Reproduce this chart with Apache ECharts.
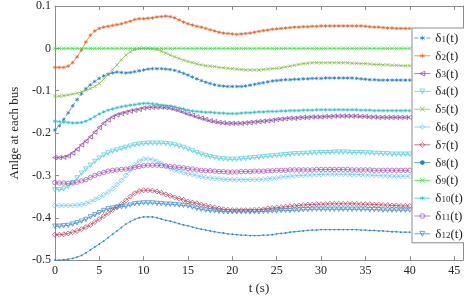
<!DOCTYPE html>
<html><head><meta charset="utf-8">
<script src="https://cdn.jsdelivr.net/npm/echarts@6/dist/echarts.min.js"></script>
<style>html,body{margin:0;padding:0;background:#fff}#c{width:464px;height:300px}</style>
</head><body><div id="c"></div><script>
const times = [
0,0.5,1,1.5,2,2.5,3,3.5,4,4.5,
5,5.5,6,6.5,7,7.5,8,8.5,9,9.5,
10,10.5,11,11.5,12,12.5,13,13.5,14,14.5,
15,15.5,16,16.5,17,17.5,18,18.5,19,19.5,
20,20.5,21,21.5,22,22.5,23,23.5,24,24.5,
25,25.5,26,26.5,27,27.5,28,28.5,29,29.5,
30,30.5,31,31.5,32,32.5,33,33.5,34,34.5,
35,35.5,36,36.5,37,37.5,38,38.5,39,39.5,
40];
const names = ['δ1(t)','δ2(t)','δ3(t)','δ4(t)','δ5(t)','δ6(t)','δ7(t)','δ8(t)','δ9(t)','δ10(t)','δ11(t)','δ12(t)'];
const d1 = [
-0.193,-0.183,-0.168,-0.152,-0.136,-0.121,-0.107,-0.095,-0.086,-0.078,
-0.071,-0.065,-0.061,-0.058,-0.056,-0.057,-0.058,-0.057,-0.055,-0.053,
-0.051,-0.049,-0.048,-0.048,-0.048,-0.049,-0.050,-0.052,-0.055,-0.059,
-0.063,-0.068,-0.072,-0.076,-0.080,-0.083,-0.086,-0.088,-0.089,-0.090,
-0.090,-0.090,-0.090,-0.089,-0.087,-0.085,-0.083,-0.081,-0.079,-0.077,
-0.076,-0.075,-0.074,-0.074,-0.073,-0.073,-0.072,-0.072,-0.071,-0.071,
-0.071,-0.070,-0.070,-0.070,-0.070,-0.070,-0.070,-0.070,-0.071,-0.072,
-0.073,-0.074,-0.074,-0.075,-0.075,-0.075,-0.075,-0.075,-0.075,-0.075,
-0.075];
const d2 = [
-0.045,-0.045,-0.045,-0.042,-0.034,-0.020,-0.004,0.015,0.031,0.041,
0.047,0.050,0.052,0.054,0.056,0.058,0.061,0.064,0.068,0.070,
0.070,0.071,0.072,0.074,0.075,0.076,0.075,0.072,0.067,0.062,
0.058,0.055,0.052,0.050,0.047,0.044,0.041,0.038,0.036,0.035,
0.034,0.033,0.034,0.035,0.036,0.038,0.040,0.042,0.043,0.045,
0.046,0.047,0.048,0.049,0.050,0.050,0.051,0.051,0.052,0.052,
0.053,0.053,0.053,0.053,0.053,0.053,0.053,0.053,0.053,0.053,
0.052,0.051,0.050,0.050,0.049,0.048,0.048,0.047,0.047,0.047,
0.047];
const d3 = [
-0.258,-0.258,-0.257,-0.254,-0.247,-0.238,-0.228,-0.219,-0.209,-0.198,
-0.187,-0.177,-0.169,-0.162,-0.157,-0.154,-0.151,-0.148,-0.146,-0.144,
-0.141,-0.140,-0.139,-0.139,-0.139,-0.140,-0.141,-0.144,-0.147,-0.151,
-0.155,-0.158,-0.162,-0.165,-0.168,-0.171,-0.173,-0.175,-0.176,-0.177,
-0.177,-0.177,-0.177,-0.176,-0.175,-0.174,-0.173,-0.172,-0.171,-0.170,
-0.168,-0.167,-0.166,-0.165,-0.165,-0.164,-0.163,-0.163,-0.162,-0.162,
-0.162,-0.161,-0.161,-0.160,-0.160,-0.160,-0.160,-0.160,-0.160,-0.161,
-0.161,-0.162,-0.162,-0.163,-0.163,-0.163,-0.163,-0.163,-0.163,-0.163,
-0.163];
const d4 = [
-0.334,-0.334,-0.332,-0.326,-0.317,-0.306,-0.295,-0.285,-0.276,-0.267,
-0.259,-0.252,-0.247,-0.243,-0.240,-0.237,-0.234,-0.231,-0.228,-0.226,
-0.225,-0.224,-0.224,-0.224,-0.224,-0.225,-0.226,-0.228,-0.231,-0.234,
-0.238,-0.242,-0.246,-0.250,-0.253,-0.256,-0.258,-0.260,-0.261,-0.262,
-0.262,-0.262,-0.261,-0.260,-0.259,-0.258,-0.257,-0.256,-0.255,-0.254,
-0.253,-0.252,-0.251,-0.250,-0.249,-0.249,-0.248,-0.248,-0.247,-0.247,
-0.246,-0.246,-0.246,-0.245,-0.245,-0.245,-0.245,-0.246,-0.246,-0.246,
-0.247,-0.247,-0.248,-0.248,-0.249,-0.249,-0.250,-0.250,-0.250,-0.250,
-0.250];
const d5 = [
-0.113,-0.113,-0.112,-0.110,-0.108,-0.106,-0.103,-0.099,-0.095,-0.090,
-0.083,-0.073,-0.062,-0.050,-0.039,-0.027,-0.016,-0.008,-0.003,-0.001,
0.000,0.000,-0.001,-0.003,-0.007,-0.011,-0.016,-0.020,-0.024,-0.028,
-0.031,-0.034,-0.037,-0.039,-0.041,-0.042,-0.043,-0.045,-0.046,-0.047,
-0.048,-0.049,-0.050,-0.051,-0.051,-0.051,-0.051,-0.050,-0.049,-0.048,
-0.047,-0.046,-0.044,-0.042,-0.040,-0.038,-0.036,-0.035,-0.034,-0.034,
-0.034,-0.034,-0.034,-0.034,-0.034,-0.034,-0.034,-0.035,-0.035,-0.036,
-0.036,-0.037,-0.038,-0.038,-0.039,-0.039,-0.040,-0.040,-0.041,-0.041,
-0.041];
const d6 = [
-0.371,-0.371,-0.371,-0.371,-0.371,-0.370,-0.369,-0.366,-0.362,-0.357,
-0.352,-0.346,-0.339,-0.331,-0.322,-0.312,-0.300,-0.287,-0.275,-0.266,
-0.261,-0.261,-0.263,-0.266,-0.271,-0.277,-0.283,-0.287,-0.290,-0.293,
-0.296,-0.298,-0.301,-0.303,-0.305,-0.306,-0.307,-0.308,-0.309,-0.310,
-0.310,-0.310,-0.310,-0.310,-0.310,-0.310,-0.310,-0.309,-0.308,-0.307,
-0.306,-0.304,-0.303,-0.302,-0.301,-0.300,-0.300,-0.299,-0.299,-0.298,
-0.298,-0.297,-0.297,-0.297,-0.297,-0.297,-0.297,-0.298,-0.298,-0.298,
-0.299,-0.299,-0.300,-0.300,-0.301,-0.301,-0.302,-0.302,-0.302,-0.302,
-0.302];
const d7 = [
-0.440,-0.440,-0.439,-0.437,-0.434,-0.431,-0.427,-0.422,-0.417,-0.410,
-0.403,-0.396,-0.389,-0.382,-0.375,-0.367,-0.359,-0.350,-0.342,-0.337,
-0.335,-0.335,-0.336,-0.338,-0.341,-0.345,-0.348,-0.352,-0.355,-0.358,
-0.362,-0.364,-0.366,-0.369,-0.371,-0.374,-0.376,-0.378,-0.380,-0.381,
-0.382,-0.382,-0.382,-0.382,-0.382,-0.381,-0.381,-0.380,-0.378,-0.377,
-0.376,-0.375,-0.374,-0.373,-0.372,-0.371,-0.370,-0.369,-0.369,-0.368,
-0.368,-0.368,-0.367,-0.367,-0.367,-0.367,-0.367,-0.367,-0.367,-0.368,
-0.368,-0.368,-0.369,-0.369,-0.370,-0.370,-0.371,-0.371,-0.372,-0.372,
-0.372];
const d8 = [
-0.500,-0.500,-0.499,-0.498,-0.496,-0.493,-0.489,-0.483,-0.476,-0.469,
-0.462,-0.455,-0.447,-0.439,-0.431,-0.423,-0.415,-0.409,-0.404,-0.400,
-0.398,-0.398,-0.398,-0.400,-0.403,-0.406,-0.408,-0.411,-0.414,-0.417,
-0.419,-0.422,-0.425,-0.427,-0.429,-0.431,-0.433,-0.435,-0.436,-0.438,
-0.439,-0.440,-0.441,-0.441,-0.442,-0.442,-0.442,-0.441,-0.441,-0.440,
-0.438,-0.437,-0.436,-0.434,-0.433,-0.432,-0.431,-0.430,-0.429,-0.429,
-0.428,-0.428,-0.428,-0.428,-0.428,-0.428,-0.428,-0.428,-0.428,-0.429,
-0.429,-0.430,-0.430,-0.431,-0.431,-0.432,-0.433,-0.433,-0.434,-0.434,
-0.434];
const d9 = [
0,0,0,0,0,0,0,0,0,0,
0,0,0,0,0,0,0,0,0,0,
0,0,0,0,0,0,0,0,0,0,
0,0,0,0,0,0,0,0,0,0,
0,0,0,0,0,0,0,0,0,0,
0,0,0,0,0,0,0,0,0,0,
0,0,0,0,0,0,0,0,0,0,
0,0,0,0,0,0,0,0,0,0,
0];
const d10 = [
-0.172,-0.173,-0.174,-0.175,-0.176,-0.176,-0.175,-0.172,-0.167,-0.161,
-0.155,-0.150,-0.146,-0.143,-0.140,-0.138,-0.136,-0.134,-0.133,-0.131,
-0.130,-0.130,-0.131,-0.132,-0.134,-0.135,-0.136,-0.138,-0.141,-0.143,
-0.146,-0.148,-0.149,-0.150,-0.151,-0.151,-0.152,-0.153,-0.153,-0.154,
-0.154,-0.154,-0.153,-0.152,-0.152,-0.151,-0.150,-0.150,-0.149,-0.149,
-0.149,-0.148,-0.148,-0.147,-0.147,-0.147,-0.146,-0.146,-0.146,-0.145,
-0.145,-0.145,-0.145,-0.145,-0.145,-0.145,-0.145,-0.145,-0.145,-0.146,
-0.146,-0.146,-0.147,-0.147,-0.147,-0.147,-0.147,-0.147,-0.147,-0.147,
-0.147];
const d11 = [
-0.317,-0.318,-0.318,-0.319,-0.318,-0.316,-0.313,-0.310,-0.305,-0.300,
-0.296,-0.293,-0.290,-0.288,-0.287,-0.286,-0.285,-0.283,-0.281,-0.279,
-0.277,-0.276,-0.276,-0.276,-0.277,-0.278,-0.279,-0.280,-0.281,-0.282,
-0.284,-0.285,-0.287,-0.288,-0.289,-0.289,-0.290,-0.291,-0.291,-0.292,
-0.292,-0.292,-0.291,-0.291,-0.291,-0.290,-0.290,-0.290,-0.289,-0.289,
-0.288,-0.288,-0.288,-0.287,-0.287,-0.287,-0.287,-0.287,-0.287,-0.286,
-0.286,-0.286,-0.286,-0.286,-0.286,-0.286,-0.286,-0.287,-0.287,-0.287,
-0.287,-0.287,-0.288,-0.288,-0.288,-0.288,-0.288,-0.288,-0.288,-0.288,
-0.288];
const d12 = [
-0.420,-0.420,-0.419,-0.418,-0.415,-0.412,-0.408,-0.404,-0.398,-0.393,
-0.388,-0.383,-0.379,-0.377,-0.375,-0.374,-0.373,-0.370,-0.367,-0.366,
-0.365,-0.365,-0.365,-0.366,-0.367,-0.368,-0.368,-0.369,-0.370,-0.371,
-0.372,-0.375,-0.378,-0.380,-0.382,-0.383,-0.384,-0.385,-0.386,-0.386,
-0.386,-0.386,-0.386,-0.386,-0.386,-0.386,-0.386,-0.385,-0.385,-0.384,
-0.384,-0.383,-0.383,-0.383,-0.382,-0.382,-0.381,-0.381,-0.380,-0.380,
-0.380,-0.380,-0.380,-0.380,-0.380,-0.380,-0.380,-0.380,-0.380,-0.380,
-0.380,-0.381,-0.381,-0.381,-0.382,-0.382,-0.382,-0.382,-0.382,-0.382,
-0.382];
const values = [d1,d2,d3,d4,d5,d6,d7,d8,d9,d10,d11,d12];

const ASTER = 'path://M5,0L5,10M0.67,2.5L9.33,7.5M0.67,7.5L9.33,2.5';
const XMARK = 'path://M0,0L10,10M0,10L10,0';
const LTRI = 'path://M0,5L10,0L10,10Z';
const DTRI = 'path://M0,0L10,0L5,10Z';
const DIAM = 'path://M5,0L10,5L5,10L0,5Z';
const CIRC = 'path://M10,5A5,5,0,1,1,0,5A5,5,0,1,1,10,5Z';
const styles = [
  {c:'#1f79c2', s:ASTER, z:3.6, dash:[4,2]},
  {c:'#e0622b', s:ASTER, z:3.6},
  {c:'#8a3f9c', s:LTRI, z:4.4},
  {c:'#45cdd4', s:DTRI, z:4.4},
  {c:'#83b642', s:XMARK, z:3.4},
  {c:'#62c6f2', s:DIAM, z:5},
  {c:'#b8354c', s:DIAM, z:5},
  {c:'#2a82c8', s:'circle', z:1.8, fill:true},
  {c:'#22e622', s:XMARK, z:3.4},
  {c:'#26c0c0', s:ASTER, z:3.6},
  {c:'#a24db5', s:CIRC, z:4.4},
  {c:'#2a84ca', s:DTRI, z:4.4}
];
const FONT = '"Liberation Serif","DejaVu Serif",serif';
const series = names.map((n, i) => {
  const st = styles[i];
  return {
    type: 'line', name: n,
    data: times.map((t, k) => [t, values[i][k]]),
    symbol: st.s, symbolSize: st.z,
    showSymbol: true, showAllSymbol: true,
    lineStyle: {color: st.c, width: 0.7, type: st.dash || 'solid'},
    itemStyle: st.fill ? {color: st.c, borderWidth: 0} : {color: 'rgba(255,255,255,0)', borderColor: st.c, borderWidth: 0.7},
    emphasis: {disabled: true},
    animation: false
  };
});
const axisCol = '#8c8c8c';
const textCol = '#262626';
const chart = echarts.init(document.getElementById('c'), null, {renderer: 'canvas'});
chart.setOption({
  backgroundColor: '#fff',
  animation: false,
  grid: {left: 37, right: 1, top: 5, bottom: 34, containLabel: false},
  xAxis: [
    {type: 'value', min: 0, max: 46, interval: 5, position: 'bottom',
     name: 't (s)', nameLocation: 'middle', nameGap: 20,
     nameTextStyle: {fontFamily: FONT, fontSize: 13, color: textCol},
     axisLine: {show: true, onZero: false, lineStyle: {color: axisCol, width: 1}},
     axisTick: {show: true, inside: true, length: 4, lineStyle: {color: axisCol}},
     axisLabel: {fontFamily: FONT, fontSize: 12, color: textCol, margin: 5, showMaxLabel: false},
     splitLine: {show: false}},
    {type: 'value', min: 0, max: 46, interval: 5, position: 'top',
     axisLine: {show: true, onZero: false, lineStyle: {color: axisCol, width: 1}},
     axisTick: {show: true, inside: true, length: 4, lineStyle: {color: axisCol}},
     axisLabel: {show: false}, splitLine: {show: false}}
  ],
  yAxis: [
    {type: 'value', min: -0.5, max: 0.1, interval: 0.1, position: 'left',
     name: 'Anlge at each bus', nameLocation: 'middle', nameGap: 22,
     nameTextStyle: {fontFamily: FONT, fontSize: 13, color: textCol},
     axisLine: {show: true, onZero: false, lineStyle: {color: axisCol, width: 1}},
     axisTick: {show: true, inside: true, length: 4, lineStyle: {color: axisCol}},
     axisLabel: {fontFamily: FONT, fontSize: 12, color: textCol, margin: 4,
       formatter: v => String(Math.round(v * 10) / 10)},
     splitLine: {show: false}},
    {type: 'value', min: -0.5, max: 0.1, interval: 0.1, position: 'right',
     axisLine: {show: true, onZero: false, lineStyle: {color: axisCol, width: 1}},
     axisTick: {show: true, inside: true, length: 4, lineStyle: {color: axisCol}},
     axisLabel: {show: false}, splitLine: {show: false}}
  ],
  legend: {
    orient: 'vertical', left: 412, top: 28,
    padding: [1, 2, 2, 2], itemGap: 1.8, itemWidth: 16, itemHeight: 6,
    backgroundColor: '#fff', borderColor: axisCol, borderWidth: 1,
    itemStyle: {borderWidth: 0.7},
    lineStyle: {width: 0.7},
    data: names,
    formatter: name => {
      const m = name.match(/^δ(\d+)\(t\)$/);
      return '{a|δ}{b|' + m[1] + '}{a|(t)}';
    },
    textStyle: {
      color: textCol, fontFamily: FONT, fontSize: 13, padding: [0, 0, 0, 0],
      rich: {
        a: {fontFamily: FONT, fontSize: 13, color: textCol, lineHeight: 12, verticalAlign: 'top'},
        b: {fontFamily: FONT, fontSize: 9, color: textCol, lineHeight: 9, verticalAlign: 'bottom', padding: [6, 0, 0, 0]}
      }
    }
  },
  series: series
});
</script></body></html>
